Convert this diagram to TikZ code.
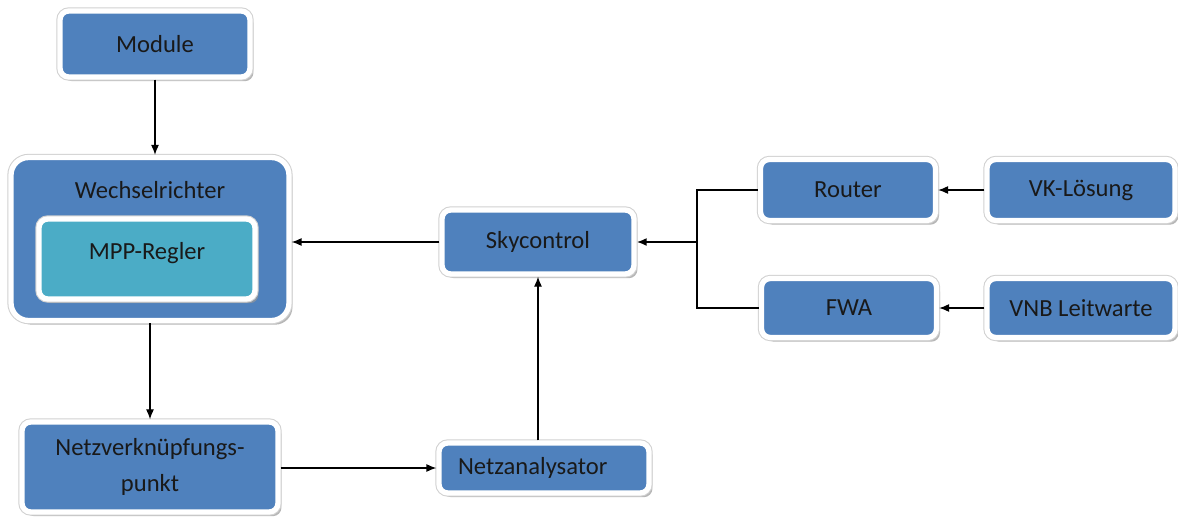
\documentclass[tikz,border=0pt]{standalone}
\usepackage{fontspec}
\setmainfont{Carlito}
\usetikzlibrary{shadows,arrows.meta,positioning,calc}
\definecolor{boxblue}{HTML}{4F81BD}
\definecolor{mppteal}{HTML}{4BACC6}

\begin{document}
\begin{tikzpicture}[x=0.02cm,y=-0.02cm,>={Latex[length=2mm,width=1.6mm]},
  box/.style={rectangle,rounded corners=5pt,draw=white,line width=3pt,fill=boxblue,
    drop shadow={shadow xshift=2pt,shadow yshift=-2.4pt,fill=black!40,opacity=0.7},
    preaction={draw=black!18,line width=4.2pt},
    font=\fontsize{14}{16}\selectfont,text=black!90,inner sep=2pt,align=center},
  conn/.style={line width=0.7pt}]
\useasboundingbox (0,0) rectangle (1178,521);
% top row
\node[box,minimum width=3.8cm,minimum height=1.32cm] (mod) at (155,44) {Module};
\node[box,rounded corners=10pt,minimum width=5.56cm,minimum height=3.26cm,
  label={[anchor=north,yshift=-0.4cm,text=black!90,font=\fontsize{14}{16}\selectfont]north:Wechselrichter}] (wr) at (150,239) {};
\node[box,fill=mppteal,minimum width=4.32cm,minimum height=1.6cm,
  text height=0.4cm,text depth=0.4cm] (mpp) at (147,259) {MPP-Regler};
\node[box,minimum width=3.84cm,minimum height=1.28cm] (sky) at (538,242) {Skycontrol};
% right side
\node[box,minimum width=3.5cm,minimum height=1.22cm] (rt) at (848,190) {Router};
\node[box,minimum width=3.76cm,minimum height=1.22cm] (vk) at (1081,190) {VK-Lösung};
\node[box,minimum width=3.5cm,minimum height=1.18cm] (fwa) at (849,308) {FWA};
\node[box,minimum width=3.76cm,minimum height=1.18cm] (vnb) at (1081,308) {VNB Leitwarte};
% bottom row
\node[box,minimum width=5.12cm,minimum height=1.8cm] (nvp) at (150,467) {Netzverknüpfungs-\\[4pt]punkt};
\node[box,minimum width=4.2cm,minimum height=1.0cm] (na) at (544,468) {Netzanalysator\hspace{0.45cm}};
\coordinate (jn) at (697,242);

\draw[conn,->] (mod.south) -- (mod.south |- wr.north);
\draw[conn,->] (sky.west) -- (sky.west -| wr.east);
\draw[conn,->] (wr.south) -- (nvp.north);
\draw[conn,->] (na.west -| nvp.east) -- (na.west);
\draw[conn,->] (na.north -| sky.south) -- (sky.south);
\draw[conn] (rt.west) -| (jn) |- (fwa.west);
\draw[->,line width=1.4pt] (jn) -- (sky.east);
\draw[conn,->] (vk) -- (rt);
\draw[conn,->] (vnb) -- (fwa);
\end{tikzpicture}
\end{document}
